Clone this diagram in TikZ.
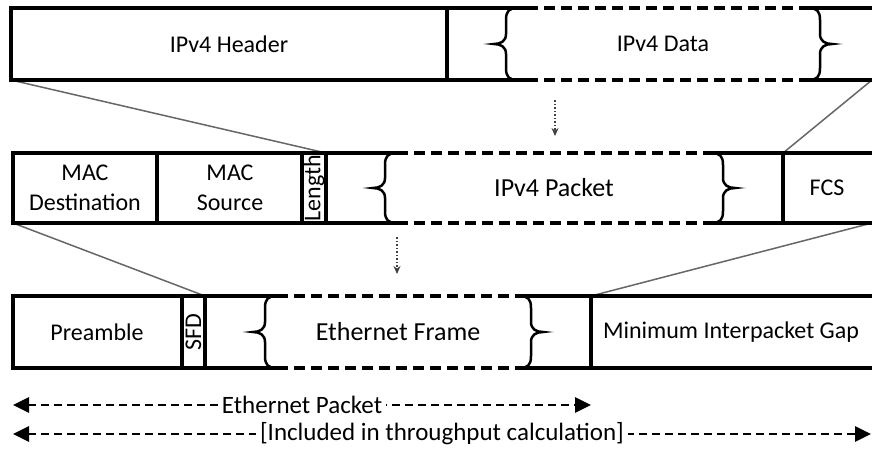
\documentclass[tikz,border=0pt]{standalone}
\usepackage{fontspec}
\setmainfont{Carlito}
\usetikzlibrary{arrows.meta}

% curly brace opening to the right, tip at x=#1, from y=#2 down to y=#3
\newcommand{\openbr}[3]{%
  \pgfmathsetmacro{\bmid}{(#2+#3)/2}
  \draw[curl] (#1+24,#2) .. controls (#1+15,#2) and (#1+12,#2+3) .. (#1+12,#2+12)
    -- (#1+12,\bmid-10) .. controls (#1+12,\bmid-3) and (#1+7,\bmid) .. (#1,\bmid)
    .. controls (#1+7,\bmid) and (#1+12,\bmid+3) .. (#1+12,\bmid+10)
    -- (#1+12,#3-12) .. controls (#1+12,#3-3) and (#1+15,#3) .. (#1+24,#3);
}
% the same, opening to the left
\newcommand{\closebr}[3]{%
  \pgfmathsetmacro{\bmid}{(#2+#3)/2}
  \draw[curl] (#1-24,#2) .. controls (#1-15,#2) and (#1-12,#2+3) .. (#1-12,#2+12)
    -- (#1-12,\bmid-10) .. controls (#1-12,\bmid-3) and (#1-7,\bmid) .. (#1,\bmid)
    .. controls (#1-7,\bmid) and (#1-12,\bmid+3) .. (#1-12,\bmid+10)
    -- (#1-12,#3-12) .. controls (#1-12,#3-3) and (#1-15,#3) .. (#1-24,#3);
}

\begin{document}
\begin{tikzpicture}[x=1pt,y=-1pt,
	frame/.style={line width=3.1pt},
	curl/.style={line width=2.5pt},
	part/.style={frame,dash pattern=on 11pt off 6pt},
	link/.style={draw=black!60,line width=1.5pt},
	hint/.style={draw=black!75,dotted,line width=1.5pt,-{Stealth[length=8pt,width=7pt]}},
	span/.style={line width=2.8pt,dash pattern=on 8pt off 5pt,{Triangle[length=16pt,width=15pt]}-{Triangle[length=16pt,width=15pt]}},
	lbl/.style={font=\fontsize{24}{30}\selectfont,inner sep=0pt,align=center},
	big/.style={lbl,font=\fontsize{26}{30}\selectfont},
	]
	\useasboundingbox (0,0) rectangle (872,455);
	\clip (0,0) rectangle (872,455);
	% corners
	\coordinate (ipBL) at (11,80);
	\coordinate (ipBR) at (872,80);
	\coordinate (macTL) at (326,153);
	\coordinate (macTR) at (783,153);
	\coordinate (macBL) at (13,223);
	\coordinate (macBR) at (872,223);
	\coordinate (phyTL) at (205,296);
	\coordinate (phyTR) at (591,296);
	\draw[link] (ipBL) -- (macTL);
	\draw[link] (ipBR) -- (macTR);
	\draw[link] (macBL) -- (phyTL);
	\draw[link] (macBR) -- (phyTR);

	% IPv4 packet
	\draw[frame] (527,8) -- (11,8) -- (11,80) -- (527,80);
	\draw[frame] (447,8) -- (447,80);
	\draw[part] (527,8) -- (808,8);
	\draw[part] (527,80) -- (808,80);
	\draw[frame] (808,8) -- (880,8);
	\draw[frame] (808,80) -- (880,80);
	\openbr{494}{8}{80}
	\closebr{832}{8}{80}
	\node[lbl] (hdr) at (229,44) {IPv4 Header};
	\node[lbl] (data) at (663,44) {IPv4 Data};

	% Ethernet frame
	\draw[frame] (397,153) -- (13,153) -- (13,223) -- (397,223);
	\draw[frame] (157,153) -- (157,223);
	\draw[frame] (302,153) -- (302,223);
	\draw[frame] (326,153) -- (326,223);
	\draw[part] (397,153) -- (711,153);
	\draw[part] (397,223) -- (711,223);
	\draw[frame] (711,153) -- (880,153);
	\draw[frame] (711,223) -- (880,223);
	\draw[frame] (783,153) -- (783,223);
	\openbr{373}{153}{223}
	\closebr{735}{153}{223}
	\node[lbl] (macd) at (85,188) {MAC\\Destination};
	\node[lbl] (macs) at (230,188) {MAC\\Source};
	\node[lbl,rotate=90] (len) at (314,188) {Length};
	\node[big] (pkt) at (554,188) {IPv4 Packet};
	\node[lbl] (fcs) at (827,188) {FCS};

	% Ethernet packet on the wire
	\draw[frame] (277,296) -- (13,296) -- (13,368) -- (277,368);
	\draw[frame] (182,296) -- (182,368);
	\draw[frame] (205,296) -- (205,368);
	\draw[part] (277,296) -- (519,296);
	\draw[part] (277,368) -- (519,368);
	\draw[frame] (519,296) -- (880,296);
	\draw[frame] (519,368) -- (880,368);
	\draw[frame] (591,296) -- (591,368);
	\openbr{253}{296}{368}
	\closebr{543}{296}{368}
	\node[lbl] (pre) at (97,332) {Preamble};
	\node[lbl,rotate=90] (sfd) at (193.5,332) {SFD};
	\node[big] (frm) at (398,332) {Ethernet Frame};
	\node[lbl] (ipg) at (731,332) {Minimum Interpacket Gap};

	% encapsulation hints
	\coordinate (h1a) at (555,100);
	\coordinate (h1b) at (555,136);
	\coordinate (h2a) at (397,237);
	\coordinate (h2b) at (397,274);
	\draw[hint] (h1a) -- (h1b);
	\draw[hint] (h2a) -- (h2b);

	% lengths
	\coordinate (epL) at (13,405);
	\coordinate (epR) at (591,405);
	\coordinate (tpL) at (13,434);
	\coordinate (tpR) at (871,434);
	\draw[span] (epL) -- node[lbl,font=\fontsize{25}{30}\selectfont,fill=white,inner xsep=4pt] (eplbl) {Ethernet Packet} (epR);
	\draw[span] (tpL) -- node[lbl,font=\fontsize{25}{30}\selectfont,fill=white,inner xsep=4pt] (tplbl) {[Included in throughput calculation]} (tpR);
\end{tikzpicture}
\end{document}
